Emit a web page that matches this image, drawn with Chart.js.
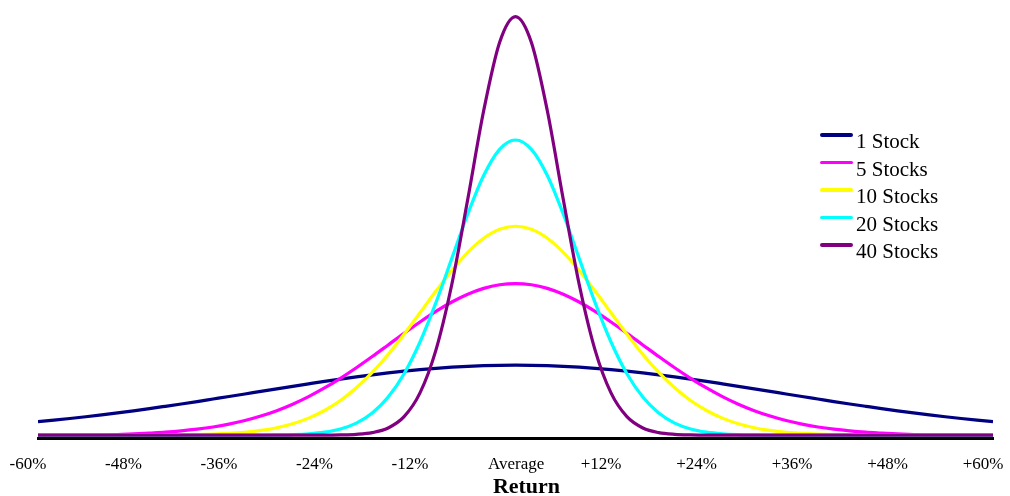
<!DOCTYPE html>
<html lang="en">
<head>
<meta charset="UTF-8" />
<title>Return distribution by number of stocks</title>
<style>
  body { margin: 0; background: #fff; }
  #wrap { position: relative; width: 1010px; height: 496px; }
  #legend { position: absolute; left: 820px; top: 128px; font-family: 'Times New Roman', 'Liberation Serif', serif; font-size: 21px; color: #000; }
  .row { position: relative; height: 27.5px; line-height: 27.5px; padding-left: 36px; white-space: nowrap; }
  .row .mark { position: absolute; left: 0; top: 5px; width: 33px; height: 3.5px; border-radius: 2px; }
</style>
</head>
<body>
<div id="wrap">
  <canvas id="chart" width="1010" height="496"></canvas>
  <div id="legend"></div>
</div>
<script src="https://cdn.jsdelivr.net/npm/chart.js"></script>
<script>
  // return axis (%), one point every 2%
  const returns = [-60, -58, -56, -54, -52, -50, -48, -46, -44, -42, -40, -38, -36, -34, -32, -30, -28, -26, -24, -22, -20,
    -18, -16, -14, -12, -10, -8, -6, -4, -2, 0, 2, 4, 6, 8, 10, 12, 14, 16, 18, 20,
    22, 24, 26, 28, 30, 32, 34, 36, 38, 40, 42, 44, 46, 48, 50, 52, 54, 56, 58, 60];

  // curve heights (40 stocks peak = 100)
  const oneStock = [3.20, 3.56, 3.96, 4.38, 4.83, 5.30, 5.80, 6.32, 6.87, 7.43, 8.01, 8.61, 9.21, 9.82, 10.44, 11.05, 11.65, 12.24, 12.82, 13.37, 13.90,
    14.39, 14.85, 15.26, 15.63, 15.95, 16.22, 16.43, 16.58, 16.67, 16.70, 16.67, 16.58, 16.43, 16.22, 15.95, 15.63, 15.26, 14.85, 14.39, 13.90,
    13.37, 12.82, 12.24, 11.65, 11.05, 10.44, 9.82, 9.21, 8.61, 8.01, 7.43, 6.87, 6.32, 5.80, 5.30, 4.83, 4.38, 3.96, 3.56, 3.20];
  const fiveStocks = [0, 0, 0, 0, 0, 0.1, 0.3, 0.50, 0.71, 1.01, 1.41, 1.93, 2.61, 3.47, 4.54, 5.83, 7.38, 9.19, 11.25, 13.56, 16.08,
    18.76, 21.54, 24.33, 27.03, 29.55, 31.79, 33.65, 35.05, 35.91, 36.2, 35.91, 35.05, 33.65, 31.79, 29.55, 27.03, 24.33, 21.54, 18.76, 16.08,
    13.56, 11.25, 9.19, 7.38, 5.83, 4.54, 3.47, 2.61, 1.93, 1.41, 1.01, 0.71, 0.50, 0.3, 0.1, 0, 0, 0, 0, 0];
  const tenStocks = [0, 0, 0, 0, 0, 0, 0, 0, 0.03, 0.07, 0.13, 0.23, 0.40, 0.68, 1.11, 1.76, 2.71, 4.05, 5.87, 8.26, 11.29,
    14.97, 19.27, 24.09, 29.22, 34.41, 39.34, 43.65, 47.02, 49.16, 49.9, 49.16, 47.02, 43.65, 39.34, 34.41, 29.22, 24.09, 19.27, 14.97, 11.29,
    8.26, 5.87, 4.05, 2.71, 1.76, 1.11, 0.68, 0.40, 0.23, 0.13, 0.07, 0.03, 0, 0, 0, 0, 0, 0, 0, 0];
  const twentyStocks = [0, 0, 0, 0, 0, 0, 0, 0, 0, 0, 0, 0, 0, 0, 0, 0.05, 0.13, 0.31, 0.70, 1.46, 2.86,
    5.26, 9.07, 14.66, 22.24, 31.64, 42.22, 52.83, 62.02, 68.28, 70.5, 68.28, 62.02, 52.83, 42.22, 31.64, 22.24, 14.66, 9.07, 5.26, 2.86,
    1.46, 0.70, 0.31, 0.13, 0.05, 0, 0, 0, 0, 0, 0, 0, 0, 0, 0, 0, 0, 0, 0, 0];
  const fortyStocks = [0, 0, 0, 0, 0, 0, 0, 0, 0, 0, 0, 0, 0, 0, 0, 0, 0, 0, 0, 0.04, 0.17,
    0.57, 1.69, 4.39, 10.07, 20.30, 36.04, 56.33, 77.48, 93.82, 100, 93.82, 77.48, 56.33, 36.04, 20.30, 10.07, 4.39, 1.69, 0.57, 0.17,
    0.04, 0, 0, 0, 0, 0, 0, 0, 0, 0, 0, 0, 0, 0, 0, 0, 0, 0, 0, 0];

  const seriesNames = ['1 Stock', '5 Stocks', '10 Stocks', '20 Stocks', '40 Stocks'];
  const seriesColors = ['#000080', '#ff00ff', '#ffff00', '#00ffff', '#800080'];
  const tickValues = [-60, -48, -36, -24, -12, 0, 12, 24, 36, 48, 60];
  const tickLabels = ['-60%', '-48%', '-36%', '-24%', '-12%', 'Average', '+12%', '+24%', '+36%', '+48%', '+60%'];

  const serif = "'Times New Roman', 'Liberation Serif', serif";
  const allSeries = [oneStock, fiveStocks, tenStocks, twentyStocks, fortyStocks];

  const datasets = allSeries.map((vals, i) => ({
    label: seriesNames[i],
    data: returns.map((r, j) => ({ x: r, y: vals[j] })),
    borderColor: seriesColors[i],
    backgroundColor: seriesColors[i],
    order: 5 - i // last series drawn on top, like the original
  }));

  new Chart(document.getElementById('chart'), {
    type: 'line',
    data: { datasets: datasets },
    options: {
      responsive: false,
      animation: false,
      layout: { padding: { left: 38, right: 17, top: 4, bottom: 0 } },
      plugins: { legend: { display: false }, tooltip: { enabled: false } },
      elements: {
        point: { radius: 0 },
        line: { borderWidth: 3.2, cubicInterpolationMode: 'monotone', fill: false }
      },
      scales: {
        x: {
          type: 'linear', min: -60, max: 60,
          afterBuildTicks: s => { s.ticks = tickValues.map(v => ({ value: v })); },
          ticks: {
            autoSkip: false, maxRotation: 0, padding: 8, labelOffset: -10, color: '#000',
            font: { family: serif, size: 17 },
            // "Average" sits a little right of the other labels in the original
            callback: (v, i) => tickLabels[i] === 'Average' ? '     Average' : tickLabels[i]
          },
          grid: { display: false },
          border: { display: true, color: '#000', width: 3 },
          title: {
            display: true, text: '    Return', color: '#000', padding: 0,
            font: { family: serif, size: 22, weight: 'bold', lineHeight: 0.8 }
          },
          afterFit: s => { s.height = 58; s.paddingLeft = 0; s.paddingRight = 0; }
        },
        y: { display: false, min: -0.7, max: 103 }
      }
    }
  });

  // legend drawn as html rows over the plot
  const legend = document.getElementById('legend');
  seriesNames.forEach((name, i) => {
    const row = document.createElement('div');
    row.className = 'row';
    row.innerHTML = '<span class="mark" style="background:' + seriesColors[i] + '"></span>' + name;
    legend.appendChild(row);
  });
</script>
</body>
</html>
